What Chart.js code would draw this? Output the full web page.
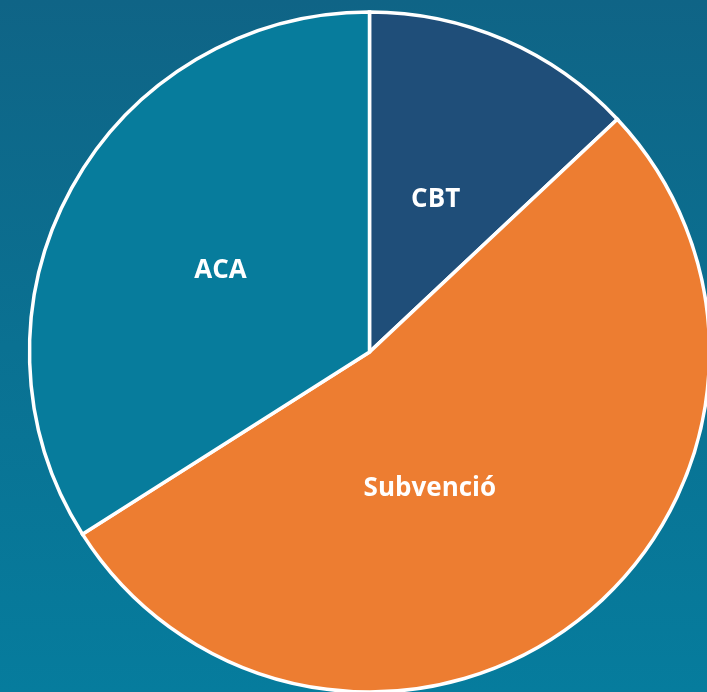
<!DOCTYPE html>
<html>
<head>
<meta charset="utf-8">
<script src="https://cdn.jsdelivr.net/npm/chart.js@4/dist/chart.umd.min.js"></script>
<style>
  html, body { margin: 0; padding: 0; }
  body {
    width: 707px;
    height: 692px;
    overflow: hidden;
    background: linear-gradient(to bottom, #0f6486 0%, #0a7192 50%, #067c9d 100%);
  }
  .wrap { position: relative; width: 707px; height: 692px; }
</style>
</head>
<body>
<div class="wrap"><canvas id="chart"></canvas></div>
<script>
const categories = ['CBT', 'Subvenció', 'ACA'];
const shares = [13, 53, 34];
const sliceColors = ['#1f4e79', '#ed7d31', '#077c9c'];

// label placement inside each slice: fraction of radius + angle nudge (deg)
const labelPlace = [
  { r: 0.49, da: 0 },
  { r: 0.44, da: 14 },
  { r: 0.5, da: 0 }
];

const sliceLabels = {
  id: 'sliceLabels',
  afterDatasetsDraw(chart) {
    const ctx = chart.ctx;
    const meta = chart.getDatasetMeta(0);
    ctx.save();
    ctx.fillStyle = '#ffffff';
    ctx.font = 'bold 26px "Open Sans", sans-serif';
    ctx.textAlign = 'center';
    ctx.textBaseline = 'middle';
    meta.data.forEach((arc, i) => {
      const p = arc.getProps(['x', 'y', 'startAngle', 'endAngle', 'outerRadius'], true);
      const place = labelPlace[i];
      const mid = (p.startAngle + p.endAngle) / 2 + place.da * Math.PI / 180;
      const rr = p.outerRadius * place.r;
      ctx.fillText(chart.data.labels[i], p.x + Math.cos(mid) * rr, p.y + Math.sin(mid) * rr);
    });
    ctx.restore();
  }
};

new Chart(document.getElementById('chart'), {
  type: 'pie',
  data: {
    labels: categories,
    datasets: [{
      data: shares,
      backgroundColor: sliceColors,
      borderColor: '#ffffff',
      borderWidth: 3.5,
      borderJoinStyle: 'miter'
    }]
  },
  options: {
    responsive: true,
    maintainAspectRatio: false,
    animation: false,
    radius: 340,
    layout: { padding: { left: 32, right: 0, top: 12, bottom: 0 } },
    plugins: {
      legend: { display: false },
      tooltip: { enabled: false }
    }
  },
  plugins: [sliceLabels]
});
</script>
</body>
</html>
